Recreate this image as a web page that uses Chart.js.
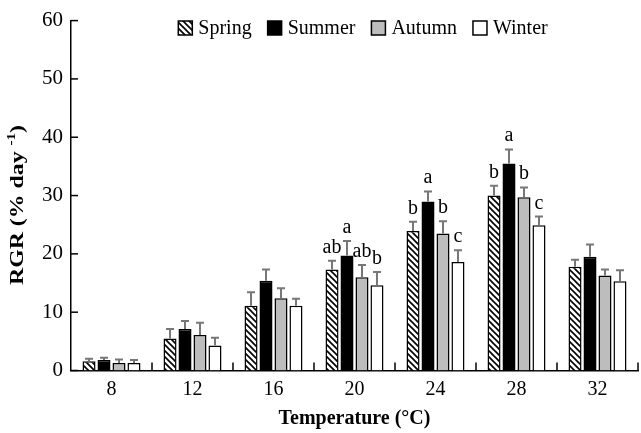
<!DOCTYPE html>
<html>
<head>
<meta charset="utf-8">
<script src="https://cdn.jsdelivr.net/npm/chart.js@4/dist/chart.umd.min.js"></script>
<style>
html,body{margin:0;padding:0;background:#fff;}
#wrap{width:641px;height:433px;position:relative;}
</style>
</head>
<body>
<div id="wrap"><canvas id="c" width="641" height="433"></canvas></div>
<script>
const categories = ['8','12','16','20','24','28','32'];
const seriesNames = ['Spring','Summer','Autumn','Winter'];
const spring = [1.6, 5.5, 11.1, 17.3, 23.9, 30.0, 17.8];
const summer = [1.8, 7.1, 15.4, 19.7, 29.0, 35.5, 19.5];
const autumn = [1.3, 6.1, 12.4, 16.0, 23.5, 29.7, 16.3];
const winter = [1.3, 4.3, 11.1, 14.6, 18.6, 24.9, 15.3];
const errSpring = [0.4, 1.6, 2.3, 1.5, 1.6, 1.7, 1.2];
const errSummer = [0.4, 1.4, 1.9, 2.5, 1.7, 2.4, 2.1];
const errAutumn = [0.6, 2.1, 1.7, 2.1, 2.1, 1.7, 1.0];
const errWinter = [0.5, 1.3, 1.2, 2.3, 2.0, 1.5, 1.9];
const lettersSpring = ['', '', '', 'ab', 'b', 'b', ''];
const lettersSummer = ['', '', '', 'a', 'a', 'a', ''];
const lettersAutumn = ['', '', '', 'ab', 'b', 'b', ''];
const lettersWinter = ['', '', '', 'b', 'c', 'c', ''];
const yTicks = [0, 10, 20, 30, 40, 50, 60];
const yTitleMain = 'RGR (% day';
const yTitleSup = '-1';
const yTitleEnd = ')';
const xTitle = 'Temperature (°C)';

const FONT = "'Liberation Serif', 'Times New Roman', serif";

function hatch() {
  const s = 6;
  const c = document.createElement('canvas');
  c.width = s; c.height = s;
  const g = c.getContext('2d');
  g.fillStyle = '#fff'; g.fillRect(0,0,s,s);
  g.strokeStyle = '#000'; g.lineWidth = 1.6;
  g.beginPath();
  g.moveTo(-1,-1); g.lineTo(s+1,s+1);
  g.moveTo(-1,s-1); g.lineTo(1,s+1);
  g.moveTo(s-1,-1); g.lineTo(s+1,1);
  g.stroke();
  return g.createPattern(c, 'repeat');
}

const errs = [errSpring, errSummer, errAutumn, errWinter];
const letters = [lettersSpring, lettersSummer, lettersAutumn, lettersWinter];

const decor = {
  id: 'decor',
  afterDatasetsDraw(chart) {
    const ctx = chart.ctx;
    const x = chart.scales.x, y = chart.scales.y;
    ctx.save();
    // error bars and letters
    ctx.strokeStyle = '#777';
    ctx.lineWidth = 2;
    chart.data.datasets.forEach((ds, i) => {
      const meta = chart.getDatasetMeta(i);
      meta.data.forEach((bar, j) => {
        const v = ds.data[j], e = errs[i][j];
        const yTop = y.getPixelForValue(v + e);
        const yB = y.getPixelForValue(v);
        ctx.beginPath();
        ctx.moveTo(bar.x, yB); ctx.lineTo(bar.x, yTop);
        ctx.moveTo(bar.x - 4, yTop); ctx.lineTo(bar.x + 4, yTop);
        ctx.stroke();
        const L = letters[i][j];
        if (L) {
          ctx.fillStyle = '#000';
          ctx.font = '20px ' + FONT;
          ctx.textAlign = 'center';
          ctx.textBaseline = 'alphabetic';
          ctx.fillText(L, bar.x, yTop - 8);
        }
      });
    });
    // inward ticks
    ctx.strokeStyle = '#000';
    ctx.lineWidth = 1.5;
    yTicks.forEach(t => {
      const py = y.getPixelForValue(t);
      ctx.beginPath();
      ctx.moveTo(x.left, py); ctx.lineTo(x.left + 7, py);
      ctx.stroke();
    });
    const n = categories.length;
    const step = x.getPixelForValue(1) - x.getPixelForValue(0);
    for (let k = 0; k < n; k++) {
      const px = x.getPixelForValue(k) + step / 2;
      ctx.beginPath();
      ctx.moveTo(px, y.bottom); ctx.lineTo(px, y.bottom - 8);
      ctx.stroke();
    }
    // legend
    ctx.font = '20px ' + FONT;
    ctx.textBaseline = 'middle';
    ctx.textAlign = 'left';
    const box = 14, gapT = 6, gapI = 16, cy = 28;
    let total = 0;
    chart.data.datasets.forEach((ds, i) => {
      total += box + gapT + ctx.measureText(ds.label).width + (i ? gapI : 0);
    });
    let lx = 363 - total / 2;
    chart.data.datasets.forEach((ds, i) => {
      ctx.fillStyle = ds.backgroundColor;
      ctx.fillRect(lx, cy - box / 2, box, box);
      ctx.strokeStyle = '#000';
      ctx.lineWidth = 1.5;
      ctx.strokeRect(lx, cy - box / 2, box, box);
      ctx.fillStyle = '#000';
      ctx.fillText(ds.label, lx + box + gapT, cy + 1);
      lx += box + gapT + ctx.measureText(ds.label).width + gapI;
    });
    // y title with superscript
    ctx.save();
    const tcx = 17, tcy = 205, targetLen = 160;
    ctx.translate(tcx, tcy);
    ctx.rotate(-Math.PI / 2);
    const fMain = 'bold 19px ' + FONT, fSup = 'bold 12px ' + FONT;
    ctx.font = fMain; const w1 = ctx.measureText(yTitleMain + ' ').width; const w3 = ctx.measureText(yTitleEnd).width;
    ctx.font = fSup; const w2 = ctx.measureText(yTitleSup).width;
    const len = w1 + w2 + w3;
    ctx.scale(targetLen / len, 1);
    let tx = -len / 2;
    ctx.textAlign = 'left';
    ctx.textBaseline = 'middle';
    ctx.fillStyle = '#000';
    ctx.font = fMain; ctx.fillText(yTitleMain + ' ', tx, 1); tx += w1;
    ctx.font = fSup; ctx.fillText(yTitleSup, tx, -5); tx += w2;
    ctx.font = fMain; ctx.fillText(yTitleEnd, tx, 1);
    ctx.restore();
    ctx.restore();
  }
};

new Chart(document.getElementById('c'), {
  type: 'bar',
  data: {
    labels: categories,
    datasets: [
      { label: seriesNames[0], data: spring, backgroundColor: hatch(), borderColor: '#000', borderWidth: 1.5 },
      { label: seriesNames[1], data: summer, backgroundColor: '#000', borderColor: '#000', borderWidth: 1.5 },
      { label: seriesNames[2], data: autumn, backgroundColor: '#bdbdbd', borderColor: '#000', borderWidth: 1.5 },
      { label: seriesNames[3], data: winter, backgroundColor: '#fff', borderColor: '#000', borderWidth: 1.5 }
    ]
  },
  options: {
    responsive: false,
    animation: false,
    devicePixelRatio: 1,
    categoryPercentage: 0.74,
    barPercentage: 0.87,
    layout: { padding: { top: 16, right: 3, left: 0, bottom: 0 } },
    plugins: {
      legend: { display: false },
      tooltip: { enabled: false }
    },
    scales: {
      x: {
        afterFit(s) { s.height = 62.5; },
        grid: { display: false, drawTicks: false },
        border: { display: true, color: '#000', width: 1.5 },
        ticks: { color: '#000', font: { family: FONT, size: 20 }, padding: 7 },
        title: { display: true, text: xTitle, color: '#000', font: { family: FONT, size: 20, weight: 'bold' }, padding: { top: 4, bottom: 2 } }
      },
      y: {
        min: 0, max: 60,
        afterBuildTicks(s) { s.ticks = yTicks.map(v => ({ value: v })); },
        afterFit(s) { s.width = 71; },
        grid: { display: false, drawTicks: false },
        border: { display: true, color: '#000', width: 1.5 },
        ticks: { color: '#000', font: { family: FONT, size: 21 }, padding: 8 },
        title: { display: false }
      }
    }
  },
  plugins: [decor]
});
</script>
</body>
</html>
